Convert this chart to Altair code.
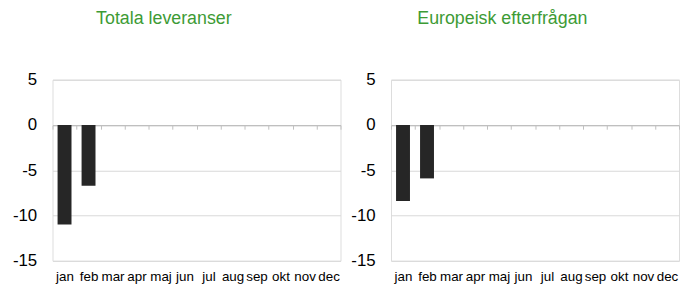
import altair as alt
import pandas as pd

months = ["jan", "feb", "mar", "apr", "maj", "jun", "jul", "aug", "sep", "okt", "nov", "dec"]
totala = [-11.0, -6.7, None, None, None, None, None, None, None, None, None, None]
europeisk = [-8.4, -5.9, None, None, None, None, None, None, None, None, None, None]
titles = ["Totala leveranser", "Europeisk efterfrågan"]
y_ticks = [-15, -10, -5, 0, 5]

FONT = "Liberation Sans"
GREEN = "#3d9b35"


def panel(values, title):
    df = pd.DataFrame({"month": months, "value": values})
    x = alt.X(
        "month:N",
        sort=months,
        scale=alt.Scale(paddingInner=0, paddingOuter=0),
        axis=alt.Axis(
            title=None,
            labelAngle=0,
            labelFont=FONT,
            labelFontSize=13.5,
            labelColor="#000000",
            labelPadding=142,
            ticks=True,
            tickBand="extent",
            tickSize=4,
            tickColor="#bfbfbf",
            domain=True,
            domainColor="#bfbfbf",
            domainWidth=1.2,
            grid=False,
            offset=-137,
        ),
    )
    y = alt.Y(
        "value:Q",
        scale=alt.Scale(domain=[-15, 5], nice=False, zero=False),
        axis=alt.Axis(
            title=None,
            values=y_ticks,
            labelExpr="'' + datum.value",
            labelFont=FONT,
            labelFontSize=17,
            labelColor="#000000",
            labelPadding=16,
            minExtent=44,
            ticks=False,
            domain=False,
            grid=True,
            gridColor="#d9d9d9",
            gridWidth=1,
        ),
    )
    bars = alt.Chart(df).mark_bar(
        color="#262626", width=alt.RelativeBandSize(0.58)
    ).encode(x=x, y=y)
    return bars.properties(
        width=291,
        height=183,
        title=alt.TitleParams(
            text=title,
            font=FONT,
            fontSize=18,
            fontWeight="normal",
            color=GREEN,
            anchor="middle",
            baseline="top",
            dx=-33,
            offset=43,
        ),
    )


chart = alt.hconcat(
    panel(totala, titles[0]), panel(europeisk, titles[1]), spacing=5
).properties(padding=0).configure_view(stroke=None).configure(background="white")

chart.save("out.html", embed_options={"renderer": "svg", "actions": False})
